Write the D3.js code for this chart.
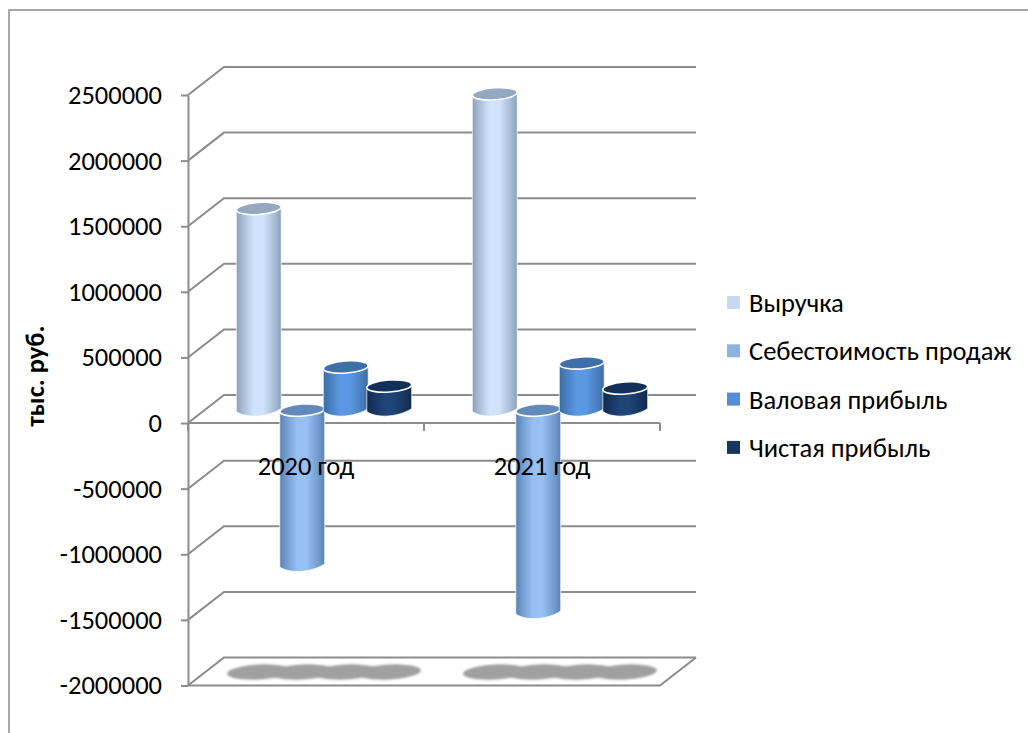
<!DOCTYPE html>
<html lang="ru">
<head>
<meta charset="utf-8">
<title>Выручка и прибыль</title>
<script src="https://cdn.jsdelivr.net/npm/d3@7"></script>
<style>
  html, body { margin: 0; padding: 0; background: #fff; }
  svg { display: block; }
  text { font-family: Carlito, Lato, "Noto Sans", sans-serif; fill: #000; }
</style>
</head>
<body>
<div id="chart"></div>
<script>
const categories = ["2020 год", "2021 год"];
const seriesNames = ["Выручка", "Себестоимость продаж", "Валовая прибыль", "Чистая прибыль"];
const revenue = [1536000, 2410000];
const costOfSales = [-1184000, -1543000];
const grossProfit = [328000, 359000];
const netProfit = [183000, 168000];
const yTicks = [2500000, 2000000, 1500000, 1000000, 500000, 0, -500000, -1000000, -1500000, -2000000];
const seriesValues = [revenue, costOfSales, grossProfit, netProfit];

const width = 1028;
const height = 733;
const depth = { x: 36, y: -28 }; // сдвиг задней стенки
const mid = { x: depth.x / 2, y: -13 };
const gridColor = "#8c8c8c";
const ry = 6;
const fontSize = "26.5px";

// цвета цилиндров: край, середина, верхняя крышка, легенда
const palette = [
  { edge: "#8a9fba", center: "#cfe3fc", top: "#94a8c1", key: "#c6d9f1" },
  { edge: "#5a82b4", center: "#97c0f2", top: "#6289b8", key: "#8db3e2" },
  { edge: "#3b6ca4", center: "#5b97e2", top: "#3f6fa8", key: "#558ed5" },
  { edge: "#11294c", center: "#1f4476", top: "#12305a", key: "#17375e" }
];

const svg = d3.select("#chart")
  .append("svg")
  .attr("width", width)
  .attr("height", height)
  .attr("viewBox", [0, 0, width, height]);

const defs = svg.append("defs");

palette.forEach((p, i) => {
  const grad = defs.append("linearGradient").attr("id", `cyl${i}`);
  const mix = d3.interpolateRgb(p.edge, p.center);
  [[0, 0], [12, 0.35], [38, 1], [60, 1], [88, 0.35], [100, 0]].forEach(([o, t]) => {
    grad.append("stop").attr("offset", `${o}%`).attr("stop-color", mix(t));
  });
});

defs.append("filter")
  .attr("id", "shadowBlur")
  .append("feGaussianBlur")
  .attr("stdDeviation", 1);

const y = d3.scaleLinear()
  .domain([-2000000, 2500000])
  .range([685.5, 95]);

const x0 = d3.scaleBand()
  .domain(categories)
  .range([188, 660]);

const x1 = d3.scaleBand()
  .domain(seriesNames)
  .range([31, 205]);

// Рамка области диаграммы (справа и снизу обрезана)
svg.append("path")
  .attr("d", d3.line()([[9, height], [9, 10], [width, 10]]))
  .attr("fill", "none")
  .attr("stroke", gridColor)
  .attr("stroke-width", 1.5);

// Линии сетки: боковая стенка и задняя стенка
const grid = svg.append("g")
  .attr("fill", "none")
  .attr("stroke", gridColor)
  .attr("stroke-width", 2);

grid.selectAll("path")
  .data(yTicks)
  .join("path")
  .attr("d", d => d3.line()([
    [x0.range()[0], y(d)],
    [x0.range()[0] + depth.x, y(d) + depth.y],
    [x0.range()[1] + depth.x, y(d) + depth.y]
  ]));

// Нижняя плоскость
grid.append("path")
  .attr("d", d3.line()([
    [x0.range()[0], y(-2000000)],
    [x0.range()[1], y(-2000000)],
    [x0.range()[1] + depth.x, y(-2000000) + depth.y]
  ]));

// Ось значений
const yAxis = svg.append("g")
  .attr("transform", `translate(${x0.range()[0]},0)`)
  .call(d3.axisLeft(y).tickValues(yTicks).tickFormat(d => String(d)).tickSize(7).tickPadding(19).tickSizeOuter(0));
yAxis.selectAll("path, line").attr("stroke", gridColor).attr("stroke-width", 2);
yAxis.selectAll("text").style("font-size", fontSize);

// Нулевая линия с делениями между категориями
const zeroLine = svg.append("g")
  .attr("stroke", gridColor)
  .attr("stroke-width", 2);
zeroLine.append("line")
  .attr("x1", x0.range()[0])
  .attr("x2", x0.range()[1])
  .attr("y1", y(0))
  .attr("y2", y(0));
zeroLine.selectAll(".tick-mark")
  .data([...categories.map(c => x0(c)), x0.range()[1]])
  .join("line")
  .attr("class", "tick-mark")
  .attr("x1", d => d)
  .attr("x2", d => d)
  .attr("y1", y(0))
  .attr("y2", y(0) + 8);

// Тени цилиндров на нижней плоскости
const shadowY = y(-2000000) - 13.5;
const shadow = svg.append("g")
  .attr("fill", "#a0a0a0")
  .attr("filter", "url(#shadowBlur)")
  .selectAll("g")
  .data(categories)
  .join("g");

shadow.selectAll("ellipse")
  .data(c => seriesNames.map(s => ({ c, s })))
  .join("ellipse")
  .attr("transform", d => {
    const cx = x0(d.c) + depth.x / 2 + x1(d.s) + x1.bandwidth() / 2;
    return `translate(${cx},${shadowY}) rotate(-3)`;
  })
  .attr("rx", x1.bandwidth() / 2 + 10)
  .attr("ry", 7.5);

// перемычка, чтобы пятна сливались в одно
shadow.append("rect")
  .attr("x", c => x0(c) + depth.x / 2 + x1.range()[0] + 18)
  .attr("y", shadowY - 5.5)
  .attr("width", x1.range()[1] - x1.range()[0] - 36)
  .attr("height", 11);

function cylinderSide(rx, yTop, yBottom) {
  const s = rx * Math.sin(4 * Math.PI / 180); // наклон торцов
  const path = d3.path();
  path.moveTo(-rx, yTop + s);
  path.lineTo(-rx, yBottom + s);
  path.bezierCurveTo(-rx / 2, yBottom + s + ry * 1.3, rx / 2, yBottom - s + ry * 1.3, rx, yBottom - s);
  path.lineTo(rx, yTop - s);
  path.closePath();
  return path.toString();
}

// Цилиндры
const tilt = -4;
const bars = [];
categories.forEach((c, ci) => {
  seriesNames.forEach((s, si) => {
    bars.push({ c, s, si, value: seriesValues[si][ci] });
  });
});

const bar = svg.append("g")
  .selectAll("g")
  .data(bars)
  .join("g")
  .attr("transform", d => {
    const cx = x0(d.c) + mid.x + x1(d.s) + x1.bandwidth() / 2;
    return `translate(${cx},0)`;
  });

const rx = x1.bandwidth() / 2 + 0.7;

bar.append("path")
  .attr("d", d => {
    const yTop = y(Math.max(d.value, 0)) + mid.y;
    const yBottom = y(Math.min(d.value, 0)) + mid.y;
    return cylinderSide(rx, yTop, yBottom);
  })
  .attr("fill", d => `url(#cyl${d.si})`)
  .attr("stroke", "#fff")
  .attr("stroke-opacity", 0.7)
  .attr("stroke-width", 1);

bar.append("ellipse")
  .attr("rx", rx)
  .attr("ry", ry)
  .attr("transform", d => `translate(0,${y(Math.max(d.value, 0)) + mid.y}) rotate(${tilt})`)
  .attr("fill", d => palette[d.si].top)
  .attr("stroke", "#fff")
  .attr("stroke-width", 1.6);

// Подписи категорий поверх цилиндров
const xAxis = svg.append("g")
  .attr("transform", `translate(0,${y(0)})`)
  .call(d3.axisBottom(x0).tickSize(0).tickPadding(33));
xAxis.select(".domain").remove();
xAxis.selectAll("text").style("font-size", fontSize);

// Подпись оси значений
svg.append("text")
  .attr("transform", "translate(44,376) rotate(-90)")
  .attr("text-anchor", "middle")
  .style("font-size", "26.5px")
  .style("font-weight", "bold")
  .text("тыс. руб.");

// Легенда
const legend = svg.append("g")
  .selectAll("g")
  .data(seriesNames)
  .join("g")
  .attr("transform", (d, i) => `translate(727,${296 + i * 48.3})`);

legend.append("rect")
  .attr("width", 13)
  .attr("height", 13)
  .attr("fill", (d, i) => palette[i].key);

legend.append("text")
  .attr("x", 22)
  .attr("y", 16)
  .style("font-size", fontSize)
  .text(d => d);
</script>
</body>
</html>
